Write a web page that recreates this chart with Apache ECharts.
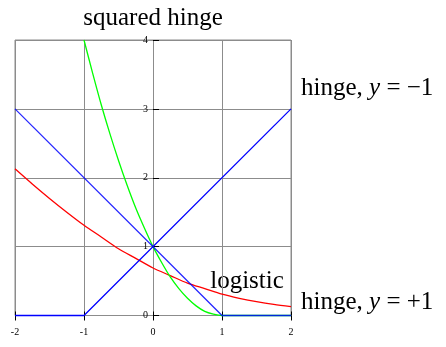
<!DOCTYPE html>
<html>
<head>
<meta charset="utf-8">
<script src="https://cdn.jsdelivr.net/npm/echarts@6/dist/echarts.min.js"></script>
<style>
  html, body { margin: 0; padding: 0; background: #fff; }
  #chart { width: 446px; height: 347px; }
</style>
</head>
<body>
<div id="chart"></div>
<script>
// Loss functions plotted against the margin
const xTicks = [-2, -1, 0, 1, 2];
const yTicks = [0, 1, 2, 3, 4];

// hinge loss for label y = -1 and y = +1 (piecewise linear, breakpoints only)
const hingeNegX = [-2, -1, 2];
const hingeNegY = [0, 0, 3];
const hingePosX = [-2, 1, 2];
const hingePosY = [3, 0, 0];

// squared hinge
const sqHingeX = [-1, -0.875, -0.75, -0.625, -0.5, -0.375, -0.25, -0.125, 0,
                  0.125, 0.25, 0.375, 0.5, 0.625, 0.75, 0.875, 1, 2];
const sqHingeY = [4, 3.52, 3.06, 2.64, 2.25, 1.89, 1.56, 1.27, 1,
                  0.77, 0.56, 0.39, 0.25, 0.14, 0.06, 0.02, 0, 0];

// logistic
const logisticX = [-2, -1.75, -1.5, -1.25, -1, -0.75, -0.5, -0.25, 0,
                   0.25, 0.5, 0.75, 1, 1.25, 1.5, 1.75, 2];
const logisticY = [2.13, 1.91, 1.70, 1.50, 1.31, 1.14, 0.97, 0.83, 0.69,
                   0.58, 0.47, 0.39, 0.31, 0.25, 0.20, 0.16, 0.13];

const pairs = (xs, ys) => xs.map((x, i) => [x, ys[i]]);

const SERIF = '"Liberation Serif", "DejaVu Serif", serif';
const GRID_GRAY = '#8c8c8c';
const TEXT_SIZE = 25;

// plot box
const GRID = { left: 15, right: 155, top: 40, bottom: 31.5 };
const PLOT_W = 446 - GRID.left - GRID.right;
// the vertical axis sits on x = 0, the middle of the [-2, 2] range
const Y_AXIS_SHIFT = PLOT_W * (0 - xTicks[0]) / (xTicks[xTicks.length - 1] - xTicks[0]);

const chart = echarts.init(document.getElementById('chart'), null, { renderer: 'canvas' });

const lineSeries = (name, data, color, smooth, z, opacity) => ({
  name, type: 'line', data, smooth: smooth ? 0.3 : false,
  xAxisIndex: 0, yAxisIndex: 0,
  showSymbol: false, symbol: 'none', clip: false,
  lineStyle: { color, width: 1.3, opacity: opacity == null ? 1 : opacity }, z
});

const richLabel = sign => ({
  text: '{n|hinge, }{i|y}{n| = ' + sign + '1}', verticalAlign: 'middle', align: 'left',
  rich: {
    n: { font: TEXT_SIZE + 'px ' + SERIF, fill: '#000' },
    i: { font: 'italic ' + TEXT_SIZE + 'px ' + SERIF, fill: '#000' }
  }
});

chart.setOption({
  animation: false,
  grid: Object.assign({ show: true, borderColor: GRID_GRAY, borderWidth: 1, z: 0 }, GRID),
  xAxis: [{
    type: 'value', min: xTicks[0], max: xTicks[xTicks.length - 1], interval: 1,
    axisLine: { show: false, onZero: false },
    axisTick: { show: true, inside: true, length: 4, lineStyle: { color: '#000', width: 1 } },
    splitLine: { show: true, lineStyle: { color: GRID_GRAY, width: 1 } },
    axisLabel: { fontFamily: SERIF, fontSize: 10, color: '#000', margin: 12,
                 formatter: v => String(v) }
  }, {
    type: 'value', min: xTicks[0], max: xTicks[xTicks.length - 1], interval: 1, position: 'bottom',
    axisLine: { show: false, onZero: false },
    axisTick: { show: true, inside: false, length: 5, lineStyle: { color: '#000', width: 1 } },
    splitLine: { show: false },
    axisLabel: { show: false }
  }],
  yAxis: {
    type: 'value', min: yTicks[0], max: yTicks[yTicks.length - 1], interval: 1,
    position: 'left', offset: -Y_AXIS_SHIFT,
    axisLine: { show: false, onZero: false },
    axisTick: { show: true, inside: true, length: 6, lineStyle: { color: '#000', width: 1 } },
    splitLine: { show: true, lineStyle: { color: GRID_GRAY, width: 1 } },
    axisLabel: { fontFamily: SERIF, fontSize: 10, color: '#000', margin: 5 }
  },
  series: [
    lineSeries('logistic', pairs(logisticX, logisticY), '#ff0000', true, 5),
    lineSeries('squared hinge', pairs(sqHingeX, sqHingeY), '#00ff00', true, 6),
    lineSeries('hinge, y = -1', pairs(hingeNegX, hingeNegY), '#0000ff', false, 7),
    lineSeries('hinge, y = +1', pairs(hingePosX, hingePosY), '#0000ff', false, 7, 0.85)
  ],
  graphic: [
    { type: 'text', x: 153, y: 18, style: { text: 'squared hinge', font: TEXT_SIZE + 'px ' + SERIF, fill: '#000', align: 'center', verticalAlign: 'middle' } },
    { type: 'text', x: 247, y: 281, style: { text: 'logistic', font: TEXT_SIZE + 'px ' + SERIF, fill: '#000', align: 'center', verticalAlign: 'middle' } },
    { type: 'text', x: 301, y: 88, style: richLabel('−') },
    { type: 'text', x: 301, y: 302, style: richLabel('+') }
  ]
});
</script>
</body>
</html>
